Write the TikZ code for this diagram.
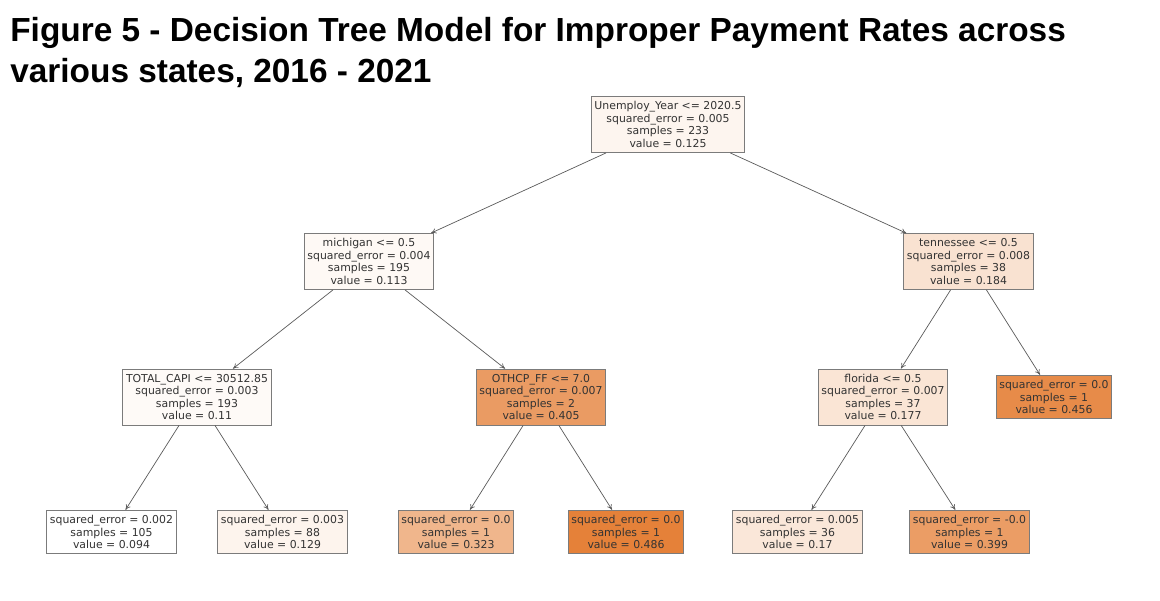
\documentclass[tikz,border=0pt]{standalone}
\usepackage{fontspec}
\setmainfont{DejaVu Sans}
\newfontfamily\titlefont{Liberation Sans}
\usetikzlibrary{arrows.meta, positioning}
\definecolor{treeorange}{HTML}{E58139}
\definecolor{edgegray}{RGB}{90,90,90}
\tikzset{
    leaf/.style={draw=edgegray!80, fill=treeorange!#1, align=center,
                 text=black!80, inner xsep=1.8pt, inner ysep=2.9pt, line width=0.5pt,
                 font=\fontsize{6.2}{7.1}\selectfont},
    edge/.style={draw=edgegray, line width=0.4pt, -{To[length=3pt,width=3pt]}}
}

\begin{document}
\begin{tikzpicture}[x=0.02cm, y=-0.02cm]
    \useasboundingbox (0,0) rectangle (1160,600);
    % title
    \node[anchor=north west, align=left, inner sep=0pt,
          font=\titlefont\bfseries\fontsize{19}{23.5}\selectfont] (title) at (10,17)
        {Figure 5 - Decision Tree Model for Improper Payment Rates across\\various states, 2016 - 2021};
    % split nodes
    \node[leaf=8] (root) at (668,124.5) {Unemploy\_Year <= 2020.5\\squared\_error = 0.005\\samples = 233\\value = 0.125};
    \node[leaf=5] (michigan) at (369,261.5) {michigan <= 0.5\\squared\_error = 0.004\\samples = 195\\value = 0.113};
    \node[leaf=23] (tennessee) at (968.5,261.5) {tennessee <= 0.5\\squared\_error = 0.008\\samples = 38\\value = 0.184};
    \node[leaf=4] (capi) at (197,397) {TOTAL\_CAPI <= 30512.85\\squared\_error = 0.003\\samples = 193\\value = 0.11};
    \node[leaf=79] (othcp) at (541,397) {OTHCP\_FF <= 7.0\\squared\_error = 0.007\\samples = 2\\value = 0.405};
    \node[leaf=21] (florida) at (883,397) {florida <= 0.5\\squared\_error = 0.007\\samples = 37\\value = 0.177};
    % leaves
    \node[leaf=92] (leafF) at (1054,397) {squared\_error = 0.0\\samples = 1\\value = 0.456};
    \node[leaf=0] (leafA) at (111.5,532) {squared\_error = 0.002\\samples = 105\\value = 0.094};
    \node[leaf=9] (leafB) at (282.5,532) {squared\_error = 0.003\\samples = 88\\value = 0.129};
    \node[leaf=58] (leafC) at (456,532) {squared\_error = 0.0\\samples = 1\\value = 0.323};
    \node[leaf=100] (leafD) at (626,532) {squared\_error = 0.0\\samples = 1\\value = 0.486};
    \node[leaf=19] (leafE) at (797.5,532) {squared\_error = 0.005\\samples = 36\\value = 0.17};
    \node[leaf=78] (leafG) at (969.5,532) {squared\_error = -0.0\\samples = 1\\value = 0.399};
    % edges
    \draw[edge] (root) -- (michigan);
    \draw[edge] (root) -- (tennessee);
    \draw[edge] (michigan) -- (capi);
    \draw[edge] (michigan) -- (othcp);
    \draw[edge] (tennessee) -- (florida);
    \draw[edge] (tennessee) -- (leafF);
    \draw[edge] (capi) -- (leafA);
    \draw[edge] (capi) -- (leafB);
    \draw[edge] (othcp) -- (leafC);
    \draw[edge] (othcp) -- (leafD);
    \draw[edge] (florida) -- (leafE);
    \draw[edge] (florida) -- (leafG);
\end{tikzpicture}
\end{document}
